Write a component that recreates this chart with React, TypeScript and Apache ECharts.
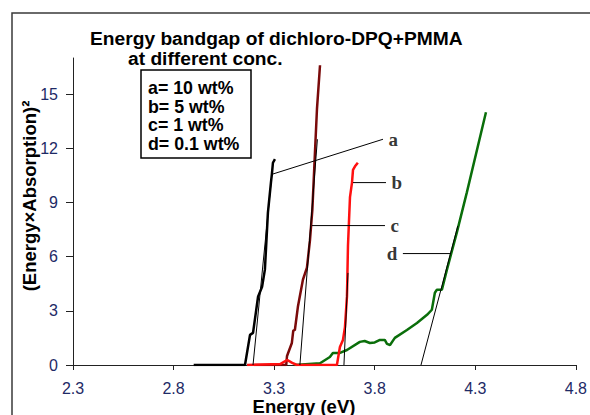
import React, { useEffect, useRef } from "react";
import * as echarts from "echarts";

const xTicks = [2.3, 2.8, 3.3, 3.8, 4.3, 4.8];
const yTicks = [0, 3, 6, 9, 12, 15];

// a = 10 wt% (black)
const seriesA = [
  [2.9, 0], [3.155, 0], [3.18, 1.67], [3.195, 1.78], [3.22, 3.78], [3.24, 4.33],
  [3.254, 5.28], [3.269, 8.44], [3.284, 10.1], [3.289, 10.6], [3.294, 11.2], [3.304, 11.4],
];
// b = 5 wt% (red)
const seriesB = [
  [3.165, 0], [3.33, 0.05], [3.364, 0.28], [3.39, 0.12], [3.413, 0], [3.612, 0],
  [3.627, 1.0], [3.642, 1.39], [3.652, 2.1], [3.662, 3.8], [3.667, 6.6], [3.677, 9.3],
  [3.687, 10.1], [3.692, 10.8], [3.702, 11.0], [3.716, 11.2],
];
// c = 1 wt% (dark red)
const seriesC = [
  [3.2, 0], [3.36, 0], [3.364, 0.5], [3.388, 1.22], [3.395, 1.9], [3.403, 1.94],
  [3.418, 3.22], [3.443, 4.72], [3.463, 5.39], [3.478, 6.9], [3.49, 8.6],
  [3.503, 11.8], [3.513, 14.2], [3.528, 16.6],
];
// d = 0.1 wt% (green)
const seriesD = [
  [3.4, 0], [3.528, 0.1], [3.577, 0.44], [3.592, 0.67], [3.627, 0.67], [3.662, 0.83],
  [3.726, 1.28], [3.75, 1.33], [3.776, 1.22], [3.8, 1.25], [3.826, 1.39], [3.85, 1.39],
  [3.861, 1.17], [3.876, 1.11], [3.9, 1.5], [3.96, 1.94], [4.01, 2.33], [4.06, 2.78],
  [4.084, 3.06], [4.099, 4.0], [4.109, 4.17], [4.134, 4.17], [4.159, 5.28],
  [4.208, 7.33], [4.258, 9.56], [4.353, 14.0],
];

// extrapolated tangent lines (band gap intercepts)
const tangentA = [[3.195, 0], [3.289, 10.6]];
const tangentB = [[3.647, 0], [3.667, 5.1]];
const tangentC = [[3.428, 0], [3.515, 12.5]];
const tangentD = [[4.03, 0], [4.213, 7.7]];

// leader lines to curve labels
const leaderA = [[3.289, 10.56], [3.841, 12.5]];
const leaderB = [[3.692, 10.1], [3.856, 10.1]];
const leaderC = [[3.488, 7.72], [3.851, 7.72]];
const leaderD = [[3.94, 6.17], [4.174, 6.17]];
const curveLabels = [
  { value: [3.841, 12.5], name: "a", side: "right" },
  { value: [3.856, 10.1], name: "b", side: "right" },
  { value: [3.851, 7.72], name: "c", side: "right" },
  { value: [3.94, 6.17], name: "d", side: "left" },
];

const legendLines = ["a= 10 wt%", "b= 5 wt%", "c= 1 wt%", "d= 0.1 wt%"];
const titleLine1 = "Energy bandgap of dichloro-DPQ+PMMA";
const titleLine2 = "at different conc.";
const xName = "Energy (eV)";
const yName = "(Energy×Absorption)²";

const SANS = "'Liberation Sans', Arial, sans-serif";
const SERIF = "'Liberation Serif', 'Times New Roman', serif";
const TICK_COLOR = "#1e2a66";

export default function App() {
  const ref = useRef<HTMLDivElement>(null);
  useEffect(() => {
    if (!ref.current) return;
    const chart = echarts.init(ref.current, null, { renderer: "svg" });
    const curve = (data: number[][], color: string, z = 3) => ({
      type: "line",
      data,
      symbol: "none",
      silent: true,
      z,
      lineStyle: { color, width: 2.5 },
    });
    const thin = (data: number[][]) => ({
      type: "line",
      data,
      symbol: "none",
      silent: true,
      z: 5,
      lineStyle: { color: "#000", width: 1 },
    });
    chart.setOption({
      animation: false,
      backgroundColor: "#fff",
      title: [
        {
          text: titleLine1,
          left: 90,
          top: 29,
          padding: 0,
          textStyle: {
            fontFamily: SANS, fontWeight: "bold", fontSize: 19.2, lineHeight: 19, color: "#000",
          },
        },
        {
          text: titleLine2,
          left: 128,
          top: 49,
          padding: 0,
          textStyle: {
            fontFamily: SANS, fontWeight: "bold", fontSize: 19.2, lineHeight: 19, color: "#000",
          },
        },
      ],
      grid: { left: 73, right: 14, top: 58, bottom: 50, containLabel: false },
      xAxis: {
        type: "value",
        min: 2.3,
        max: 4.8,
        axisLine: { lineStyle: { color: "#222", width: 1 } },
        axisTick: { customValues: xTicks, length: 5, lineStyle: { color: "#222" } },
        axisLabel: {
          customValues: xTicks,
          formatter: (v: number) => v.toFixed(1),
          fontFamily: SANS,
          fontSize: 16,
          lineHeight: 16,
          color: TICK_COLOR,
          margin: 15,
        },
        splitLine: { show: false },
      },
      yAxis: {
        type: "value",
        min: 0,
        max: 17,
        axisLine: { show: true, lineStyle: { color: "#222", width: 1 } },
        axisTick: { show: true, customValues: yTicks, length: 7, lineStyle: { color: "#222" } },
        axisLabel: {
          customValues: yTicks,
          fontFamily: SANS,
          fontSize: 16,
          color: TICK_COLOR,
          margin: 15,
        },
        splitLine: { show: false },
      },
      series: [
        curve(seriesD, "#0a6e0a", 2),
        curve(seriesC, "#7a0a0a", 3),
        curve(seriesB, "#ff1010", 4),
        curve(seriesA, "#000000", 4),
        thin(tangentA),
        thin(tangentB),
        thin(tangentC),
        thin(tangentD),
        thin(leaderA),
        thin(leaderB),
        thin(leaderC),
        thin(leaderD),
        {
          type: "scatter",
          silent: true,
          symbolSize: 1,
          itemStyle: { color: "rgba(0,0,0,0)" },
          z: 6,
          data: curveLabels.map((d) => ({
            value: d.value,
            name: d.name,
            label: {
              show: true,
              position: d.side,
              distance: 5,
              formatter: d.name,
              fontFamily: SERIF,
              fontWeight: "bold",
              fontSize: 19,
              color: "#000",
            },
          })),
        },
      ],
      graphic: [
        {
          type: "rect",
          silent: true,
          shape: { x: 12, y: 13, width: 700, height: 500 },
          style: { fill: "none", stroke: "#3a3a3a", lineWidth: 1.5 },
          z: 0,
        },
        {
          type: "rect",
          silent: true,
          shape: { x: 141, y: 70, width: 110, height: 88 },
          style: { fill: "#fff", stroke: "#000", lineWidth: 1.5 },
          z: 10,
        },
        ...legendLines.map((t, i) => ({
          type: "text",
          silent: true,
          z: 11,
          x: 148,
          y: 88 + i * 18.5,
          style: {
            text: t,
            fontFamily: SANS,
            fontWeight: "bold",
            fontSize: 17.8,
            lineHeight: 18,
            fill: "#000",
            verticalAlign: "middle",
            align: "left",
          },
        })),
        {
          type: "text",
          silent: true,
          x: 29,
          y: 196,
          rotation: Math.PI / 2,
          style: {
            text: yName,
            fontFamily: SANS,
            fontWeight: "bold",
            fontSize: 18.5,
            fill: "#000",
            align: "center",
            verticalAlign: "middle",
          },
        },
        {
          type: "text",
          silent: true,
          x: 304,
          y: 406.5,
          style: {
            text: xName,
            fontFamily: SANS,
            fontWeight: "bold",
            fontSize: 18.5,
            lineHeight: 16,
            fill: "#000",
            align: "center",
            verticalAlign: "middle",
          },
        },
      ],
    });
    return () => chart.dispose();
  }, []);
  return (
    <div
      ref={ref}
      style={{ position: "fixed", left: 0, top: 0, width: 590, height: 415, background: "#fff" }}
    />
  );
}
